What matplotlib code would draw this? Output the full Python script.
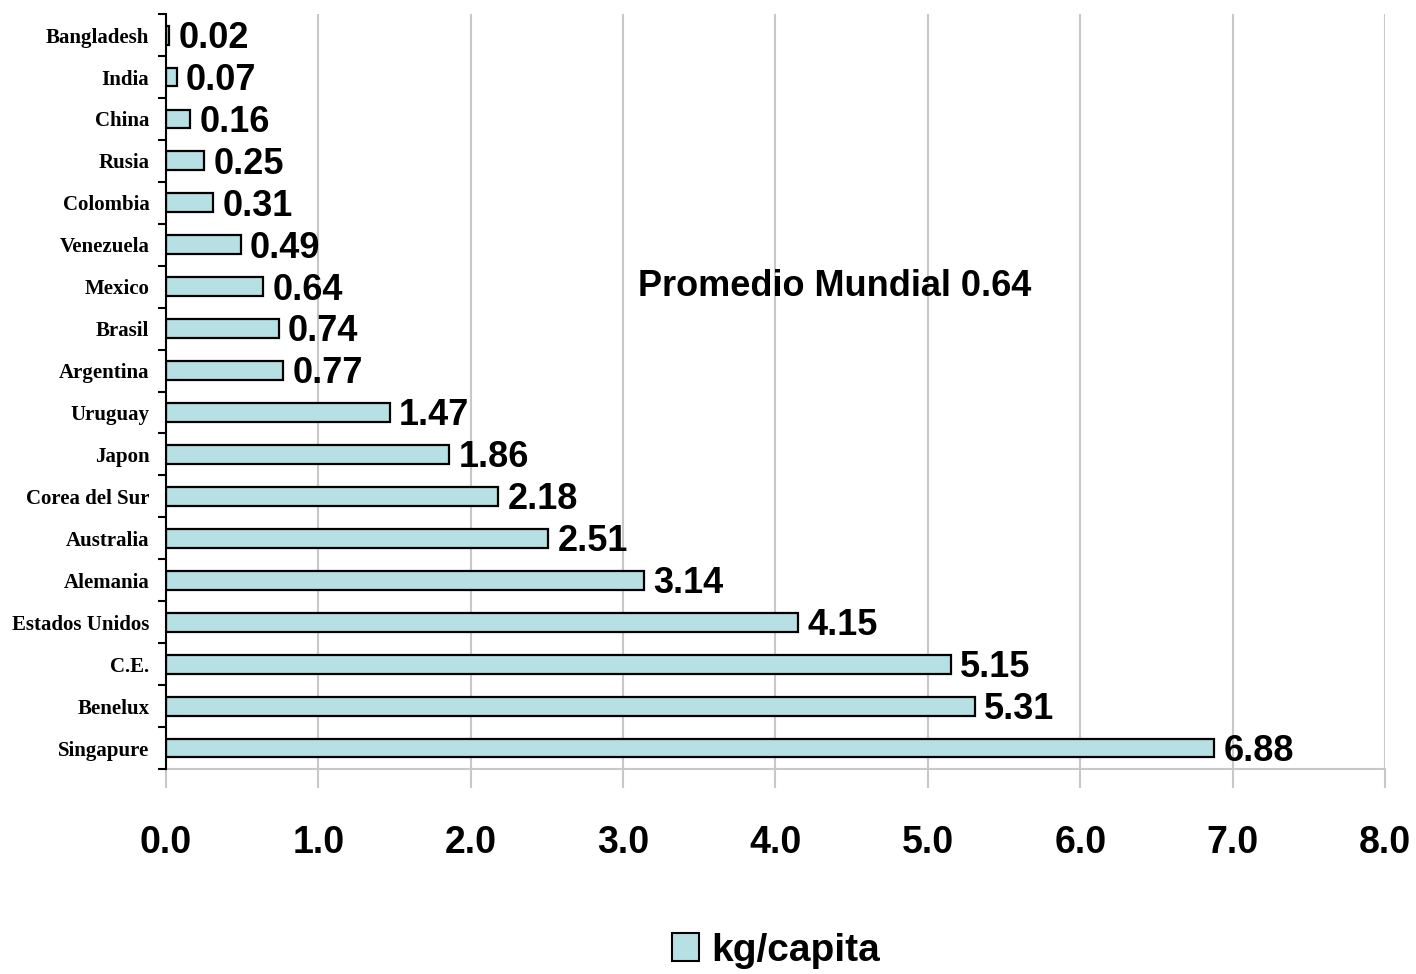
import matplotlib
matplotlib.use("Agg")
import matplotlib.pyplot as plt
from matplotlib.patches import Patch

# consumo por país, kg/capita
paises = ["Bangladesh", "India", "China", "Rusia", "Colombia", "Venezuela",
          "Mexico", "Brasil", "Argentina", "Uruguay", "Japon", "Corea del Sur",
          "Australia", "Alemania", "Estados Unidos", "C.E.", "Benelux", "Singapure"]
valores = [0.02, 0.07, 0.16, 0.25, 0.31, 0.49, 0.64, 0.74, 0.77, 1.47, 1.86,
           2.18, 2.51, 3.14, 4.15, 5.15, 5.31, 6.88]
promedio_mundial = 0.64
xticks = [0, 1, 2, 3, 4, 5, 6, 7, 8]

color_barra = "#B7E0E4"
narrow = ["Liberation Sans Narrow", "Liberation Sans", "DejaVu Sans"]
serif = ["Liberation Serif", "DejaVu Serif"]

fig = plt.figure(figsize=(14.16, 9.74), dpi=100)
ax = fig.add_axes([0.1172, 0.2105, 0.8609, 0.7750])

pos = list(range(len(paises)))
ax.barh(pos, valores, height=0.45, color=color_barra, edgecolor="black",
        linewidth=1.6, zorder=3)

for p, v in zip(pos, valores):
    ax.text(v + 0.06, p + 0.08, f"{v:.2f}", va="center", ha="left",
            fontsize=26, fontweight="bold", family=narrow, zorder=4)

ax.set_xlim(0, 8)
ax.set_ylim(len(paises) - 0.5, -0.5)

ax.set_xticks(xticks)
ax.set_xticklabels([f"{t:.1f}" for t in xticks], fontsize=27,
                   fontweight="bold", family=narrow)
ax.tick_params(axis="x", length=14, width=1.5, color="#C8C8C8", pad=26)

ax.set_yticks(pos)
ax.set_yticklabels(paises, fontsize=15, fontweight="bold", family=serif)
ax.tick_params(axis="y", which="major", length=0, pad=12)
ax.set_yticks([p + 0.5 for p in [-1] + pos], minor=True)
ax.tick_params(axis="y", which="minor", length=6, width=1.5, color="black")

ax.grid(axis="x", color="#C8C8C8", linewidth=1.5, zorder=0)
ax.set_axisbelow(True)
for s in ["top", "right"]:
    ax.spines[s].set_visible(False)
ax.spines["bottom"].set_color("#C8C8C8")
ax.spines["bottom"].set_linewidth(1.5)
ax.spines["left"].set_color("black")
ax.spines["left"].set_linewidth(1.5)
ax.spines["left"].set_zorder(5)

ax.text(4.39, 6.0, f"Promedio Mundial {promedio_mundial}", ha="center",
        va="center", fontsize=26, fontweight="bold", family=["Liberation Sans"])

handle = Patch(facecolor=color_barra, edgecolor="black", linewidth=1.5)
fig.legend([handle], ["kg/capita"], loc="center", bbox_to_anchor=(0.548, 0.024),
           frameon=False, prop={"family": narrow, "weight": "bold", "size": 28},
           handlelength=0.7, handleheight=0.75, handletextpad=0.3)

fig.savefig("out.png", dpi=100)
